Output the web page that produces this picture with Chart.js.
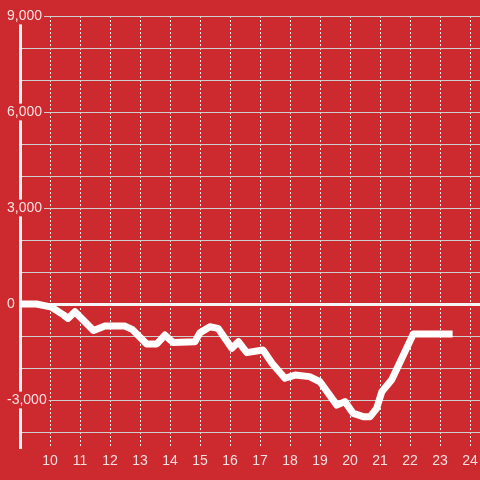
<!DOCTYPE html>
<html>
<head>
<meta charset="utf-8">
<script src="https://cdn.jsdelivr.net/npm/chart.js@4/dist/chart.umd.min.js"></script>
<style>
  html, body { margin: 0; padding: 0; background: #cc2a2f; }
  canvas { display: block; }
</style>
</head>
<body>
<canvas id="pnlChart" width="480" height="480"></canvas>
<script>
// hour of day (decimal) and value
const hours = [9.0, 9.55, 10.05, 10.45, 10.6, 10.83, 11.45, 11.83, 12.5, 12.75, 13.22, 13.56, 13.83, 14.1,
    14.83, 15.0, 15.33, 15.6, 16.06, 16.28, 16.56, 17.1, 17.4, 17.83, 18.17, 18.65, 19.0, 19.56, 19.83,
    20.11, 20.44, 20.67, 20.89, 21.06, 21.39, 22.11, 23.42];
const values = [0, 0, -100, -340, -450, -240, -830, -690, -690, -800, -1250, -1250, -970, -1200,
    -1180, -900, -710, -760, -1385, -1180, -1520, -1440, -1850, -2320, -2220, -2270, -2430, -3160, -3050,
    -3420, -3520, -3520, -3260, -2740, -2370, -940, -940];
const yGridValues = [-4000, -3000, -2000, -1000, 0, 1000, 2000, 3000, 4000, 5000, 6000, 7000, 8000, 9000];
const yLabelValues = [-3000, 0, 3000, 6000, 9000];
const xLabelHours = [10, 11, 12, 13, 14, 15, 16, 17, 18, 19, 20, 21, 22, 23, 24];

const red = "#cc2a2f";

function fmt(v) {
    const s = Math.abs(v).toString().replace(/\B(?=(\d{3})+(?!\d))/g, ",");
    return (v < 0 ? "-" : "") + s;
}

new Chart(document.getElementById("pnlChart").getContext("2d"), {
    type: "line",
    data: {
        datasets: [
            {
                data: hours.map((h, i) => ({ x: h, y: values[i] })),
                borderColor: "#ffffff",
                borderWidth: 7,
                pointRadius: 0,
                borderJoinStyle: "round",
                borderCapStyle: "butt",
                tension: 0,
            },
        ],
    },
    options: {
        responsive: false,
        animation: false,
        layout: { padding: { left: 0, top: 16, right: 0, bottom: 0 } },
        plugins: { legend: { display: false }, tooltip: { enabled: false } },
        scales: {
            x: {
                type: "linear",
                min: 9,
                max: 24.333,
                afterFit: function (scale) {
                    scale.height = 32;
                    scale.paddingLeft = 0;
                    scale.paddingRight = 0;
                },
                afterBuildTicks: function (scale) {
                    scale.ticks = xLabelHours.map((h) => ({ value: h }));
                },
                border: { display: false, dash: [2, 2] },
                grid: {
                    drawTicks: false,
                    color: "#ececec",
                    lineWidth: 1,
                },
                ticks: {
                    autoSkip: false,
                    maxRotation: 0,
                    padding: 5,
                    color: "rgba(255,255,255,0.85)",
                    font: { family: "'Liberation Sans', Arial, sans-serif", size: 14 },
                    callback: (v) => String(v),
                },
            },
            y: {
                min: -4500,
                max: 9000,
                afterFit: function (scale) { scale.width = 20; },
                afterBuildTicks: function (scale) {
                    scale.ticks = yGridValues.map((v) => ({ value: v }));
                },
                border: { display: true, color: "#f2f2f2", width: 3 },
                grid: {
                    drawTicks: false,
                    color: (ctx) => ctx.tick && ctx.tick.value === 0 ? "#f4f4f4" : "#cfcfcf",
                    lineWidth: (ctx) => ctx.tick && ctx.tick.value === 0 ? 3 : 1,
                },
                ticks: {
                    autoSkip: false,
                    mirror: true,
                    padding: -13,
                    color: "rgba(255,255,255,0.85)",
                    font: { family: "'Liberation Sans', Arial, sans-serif", size: 14 },
                    showLabelBackdrop: (ctx) => yLabelValues.includes(ctx.tick.value),
                    backdropColor: red,
                    backdropPadding: { top: 0, bottom: 0, left: 2, right: 2 },
                    callback: (v) => yLabelValues.includes(v) ? fmt(v) : "",
                },
            },
        },
    },
});
</script>
</body>
</html>
